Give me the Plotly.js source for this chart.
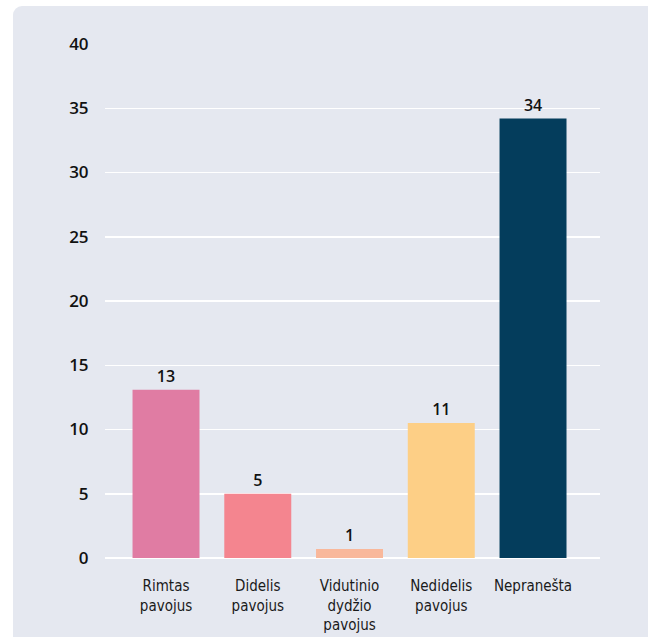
<!DOCTYPE html>
<html><head><meta charset="utf-8">
<script src="https://cdn.plot.ly/plotly-3.0.1.min.js"></script>
<style>
html,body{margin:0;padding:0;background:#fff;width:648px;height:637px;overflow:hidden}
#panel{position:absolute;left:13px;top:6px;width:660px;height:660px;background:#e5e8f0;border-radius:9px}
#chart{position:absolute;left:0;top:0;width:648px;height:637px}
</style></head>
<body>
<div id="panel"></div>
<div id="chart"></div>
<script>
const categories = ["Rimtas<br>pavojus", "Didelis<br>pavojus", "Vidutinio<br>dydžio<br>pavojus", "Nedidelis<br>pavojus", "Nepranešta"];
const values = [13.1, 5.0, 0.7, 10.5, 34.2];
const valueLabels = ["13", "5", "1", "11", "34"];
const colors = ["#e07ca3", "#f4858f", "#f9b89b", "#fdcf86", "#043d5c"];
const yTicks = [0, 5, 10, 15, 20, 25, 30, 35, 40];

const trace = {
  type: "bar",
  x: categories,
  y: values,
  text: valueLabels,
  textposition: "outside",
  cliponaxis: false,
  textfont: {family: "Open Sans, Noto Sans, sans-serif", size: 16, color: "#111", weight: 600},
  marker: {color: colors},
  width: 0.73,
  hoverinfo: "none"
};

const layout = {
  width: 648, height: 637,
  margin: {l: 105, r: 48, t: 44, b: 79},
  paper_bgcolor: "rgba(0,0,0,0)",
  plot_bgcolor: "rgba(0,0,0,0)",
  showlegend: false,
  xaxis: {
    type: "category",
    range: [-0.665, 4.73],
    showgrid: false, zeroline: false, showline: false,
    ticks: "outside", ticklen: 14, tickcolor: "rgba(0,0,0,0)",
    tickfont: {family: "Liberation Sans Narrow, DejaVu Sans Condensed, Roboto, sans-serif", size: 15, color: "#1a1a1a"}
  },
  yaxis: {
    range: [0, 40],
    tickvals: yTicks,
    ticktext: yTicks.map(String),
    showgrid: true, gridcolor: "#ffffff", gridwidth: 1.5,
    zeroline: true, zerolinecolor: "#ffffff", zerolinewidth: 1.5,
    showline: false,
    ticks: "outside", ticklen: 12, tickcolor: "rgba(0,0,0,0)",
    tickfont: {family: "Open Sans, Noto Sans, sans-serif", size: 17, color: "#111", weight: 600}
  }
};

Plotly.newPlot("chart", [trace], layout, {displayModeBar: false, staticPlot: true});
</script>
</body></html>
